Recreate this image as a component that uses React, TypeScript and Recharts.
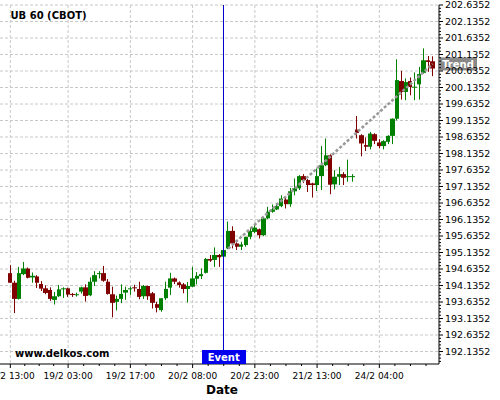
import React from 'react';
import { ComposedChart, Bar, Line, XAxis, YAxis, CartesianGrid, ReferenceLine, ReferenceDot } from 'recharts';

const opens = [194.51,194.22,193.73,194.48,194.65,194.38,194.41,194.18,194.05,194.00,
193.70,193.81,194.04,194.05,193.88,193.86,193.95,194.08,193.84,194.25,
194.50,194.51,194.25,193.87,193.64,193.73,193.92,194.02,194.08,194.03,
193.81,194.12,193.90,193.57,193.39,193.75,194.07,194.35,194.23,194.17,
194.03,194.10,194.34,194.42,194.52,194.94,194.91,195.06,195.01,195.26,
195.79,195.41,195.31,195.36,195.61,195.76,195.84,195.66,196.17,196.37,
196.44,196.54,196.74,196.60,196.99,197.08,197.45,197.33,197.23,197.18,
197.45,197.78,198.08,197.20,197.43,197.51,197.44,197.44,198.86,198.69,
198.39,198.34,198.72,198.47,198.36,198.49,198.67,199.19,200.33,200.00,
200.33,200.14,200.23,200.58,200.96,200.93];
const highs = [194.75,194.28,194.70,194.85,194.68,194.53,194.45,194.27,194.14,194.08,
193.94,194.15,194.08,194.07,193.91,193.92,194.10,194.17,194.38,194.57,
194.57,194.73,194.33,194.10,193.83,194.17,194.10,194.10,194.16,194.25,
194.15,194.13,193.94,193.64,193.75,194.25,194.52,194.38,194.26,194.21,
194.24,194.70,194.54,194.65,194.97,195.06,195.29,195.09,195.27,196.07,
195.93,195.51,195.46,195.61,195.89,195.96,195.86,196.18,196.52,196.59,
196.62,196.87,196.82,197.09,197.38,197.48,197.51,197.36,197.25,197.68,
198.36,198.59,198.11,197.63,197.73,197.57,197.95,197.51,199.27,198.72,
198.62,198.79,198.75,198.57,198.54,198.69,199.20,200.99,200.64,200.41,
200.44,200.59,200.76,201.32,201.09,201.08];
const lows = [194.21,193.30,193.71,194.45,194.35,194.22,194.06,193.97,193.87,193.67,
193.56,193.79,193.76,193.79,193.79,193.80,193.89,193.65,193.81,194.12,
194.35,194.25,193.86,193.17,193.38,193.60,193.70,193.85,193.95,193.72,
193.73,193.70,193.44,193.32,193.34,193.70,193.85,194.18,194.07,193.90,
193.62,194.09,194.17,194.33,194.50,194.85,194.70,194.70,194.97,195.24,
195.26,195.21,195.21,195.31,195.54,195.72,195.56,195.63,196.15,196.34,
196.42,196.51,196.47,196.52,196.87,197.03,197.24,196.97,196.80,197.00,
197.03,197.75,196.90,197.05,197.18,197.18,197.28,197.28,198.59,198.05,
198.21,198.26,198.42,198.29,198.26,198.42,198.42,199.14,199.77,199.75,
199.90,199.75,199.77,200.55,200.61,200.48];
const closes = [194.22,193.73,194.51,194.65,194.37,194.43,194.22,194.04,193.91,193.73,
193.81,194.02,194.05,193.86,193.85,193.87,194.08,193.82,194.25,194.45,
194.51,194.28,193.88,193.61,193.73,193.88,194.00,194.05,194.05,193.79,
194.12,193.81,193.61,193.46,193.75,194.03,194.35,194.25,194.15,194.03,
194.12,194.35,194.43,194.48,194.94,194.89,195.06,194.99,195.21,195.79,
195.41,195.31,195.38,195.61,195.79,195.89,195.66,196.17,196.37,196.44,
196.54,196.77,196.60,196.99,197.08,197.45,197.33,197.18,197.18,197.45,
197.78,198.08,197.19,197.43,197.51,197.40,197.45,197.45,198.76,198.44,
198.34,198.74,198.52,198.36,198.51,198.67,199.19,200.36,200.00,200.30,
200.15,200.16,200.54,200.96,200.91,200.71];

const xTickIdx = [0, 13, 27, 41, 55, 69, 83];
const xTickLabels = ['18/2 13:00', '19/2 03:00', '19/2 17:00', '20/2 08:00', '20/2 23:00', '21/2 13:00', '24/2 04:00'];
const xMinorIdx = [3.25, 6.5, 9.75, 16.5, 20, 23.5, 30.5, 34, 37.5, 44.5, 48, 51.5, 58.5, 62, 65.5, 72.5, 76, 79.5, 86.5, 90, 93.5];
const yTicks = [192.1352, 192.6352, 193.1352, 193.6352, 194.1352, 194.6352, 195.1352, 195.6352, 196.1352, 196.6352, 197.1352,
  197.6352, 198.1352, 198.6352, 199.1352, 199.6352, 200.1352, 200.6352, 201.1352, 201.6352, 202.1352, 202.6352];
const xDomain = [-2.32, 96.42];
const yDomain = [191.757, 202.6352];
const eventIdx = 48;
const trendIdx = [49, 95];
const trendVals = [195.25, 200.85];

const rows = opens.map((o, i) => ({ i, o, h: highs[i], l: lows[i], c: closes[i], range: [lows[i], highs[i]] }));
const trendData = trendIdx.map((i, k) => ({ i, v: trendVals[k] }));
const allXTicks = [...xTickIdx, ...xMinorIdx].sort((a, b) => a - b);
const yMinor: number[] = [];
yTicks.forEach((m) => { for (let k = 1; k <= 4; k++) yMinor.push(+(m + k * 0.1).toFixed(4)); });
for (let k = 1; k <= 3; k++) yMinor.push(+(yTicks[0] - k * 0.1).toFixed(4));
const allYTicks = [...yTicks, ...yMinor].filter(v => v >= yDomain[0] && v <= yDomain[1]).sort((a, b) => a - b);

const FONT = '"DejaVu Sans", sans-serif';
const GREEN = '#008000';
const RED = '#800000';

const Candle = (props: any) => {
  const { x, y, width, height, payload } = props;
  if (!payload) return null;
  const top = Math.min(y, y + height);
  const h = Math.abs(height);
  const { o, h: hi, l, c } = payload;
  const py = (p: number) => top + ((hi - p) / (hi - l)) * h;
  const up = c >= o;
  const color = up ? GREEN : RED;
  const center = x + width / 2;
  const cx = Math.floor(center) + 0.5;
  const left = Math.round(center - 2.2);
  const right = Math.round(center + 2.2);
  const bTop = py(Math.max(o, c));
  const bBot = py(Math.min(o, c));
  return (
    <g>
      <line x1={cx} x2={cx} y1={top} y2={top + h} stroke={color} strokeWidth={1} />
      <rect x={left} y={bTop} width={right - left} height={Math.max(1, bBot - bTop)} fill={color} />
    </g>
  );
};

const XTick = (props: any) => {
  const { x, y, payload } = props;
  const k = xTickIdx.indexOf(payload.value);
  const major = k >= 0;
  return (
    <g>
      <line x1={x} x2={x} y1={y} y2={y + (major ? 4 : 2)} stroke="#000" />
      {major && (
        <text x={x} y={y + 9} dy="0.71em" textAnchor="middle" fontSize={9} fontFamily={FONT} fill="#000">
          {xTickLabels[k]}
        </text>
      )}
    </g>
  );
};

const YTick = (props: any) => {
  const { x, y, payload } = props;
  const k = yTicks.findIndex((t) => Math.abs(t - payload.value) < 1e-6);
  const major = k >= 0;
  return (
    <g>
      <line x1={x} x2={x + (major ? 4 : 2)} y1={y} y2={y} stroke="#000" />
      {major && (
        <text x={x + 6} y={y} dy="0.355em" textAnchor="start" fontSize={9.5} fontFamily={FONT} fill="#000">
          {yTicks[k].toFixed(4)}
        </text>
      )}
    </g>
  );
};

const EventLine = (props: any) => {
  const { x1, y1, y2 } = props;
  const xx = Math.floor(x1) + 0.5;
  return <line x1={xx} x2={xx} y1={y1} y2={y2} stroke="#0000cc" strokeWidth={1} />;
};

const EventBox = (props: any) => {
  const { cx, cy } = props;
  return (
    <g>
      <rect x={Math.round(cx) - 22} y={cy - 14} width={44} height={14} fill="#0000ee" />
      <text x={cx} y={cy - 3.5} textAnchor="middle" fontSize={10} fontWeight="bold" fontFamily={FONT} fill="#fff">Event</text>
    </g>
  );
};

const TrendBox = (props: any) => {
  const { cx, cy } = props;
  return (
    <g>
      <rect x={cx} y={cy - 6.5} width={38} height={13} fill="#888888" />
      <text x={cx + 19} y={cy + 3.6} textAnchor="middle" fontSize={10} fontWeight="bold" fontFamily={FONT} fill="#fff">Trend</text>
    </g>
  );
};

export default function App() {
  return (
    <div style={{ position: 'absolute', left: 0, top: 0, width: 500, height: 400, background: '#fff' }}>
      <ComposedChart width={500} height={400} data={rows} margin={{ top: 5, right: 0, bottom: 0, left: 0 }}>
        <CartesianGrid stroke="#c8c8c8" strokeDasharray="3 2" horizontalValues={yTicks} verticalValues={xTickIdx} />
        <XAxis
          dataKey="i"
          type="number"
          domain={xDomain}
          allowDataOverflow
          ticks={allXTicks}
          interval={0}
          tickSize={0}
          tickMargin={0}
          tickLine={false}
          height={36}
          axisLine={{ stroke: '#000' }}
          tick={XTick}
        />
        <YAxis
          orientation="right"
          type="number"
          domain={yDomain}
          allowDataOverflow
          ticks={allYTicks}
          interval={0}
          tickSize={0}
          tickMargin={0}
          tickLine={false}
          width={61}
          axisLine={{ stroke: '#000' }}
          tick={YTick}
        />
        <Line data={trendData} dataKey="v" stroke="#999999" strokeWidth={2.5} strokeDasharray="3 2" dot={false} isAnimationActive={false} />
        <Bar dataKey="range" barSize={4} shape={Candle} isAnimationActive={false} />
        <ReferenceLine x={eventIdx} shape={EventLine} ifOverflow="visible" />
        <ReferenceDot x={eventIdx} y={yDomain[0]} r={0} shape={EventBox} ifOverflow="visible" />
        <ReferenceDot x={xDomain[1]} y={trendVals[1]} r={0} shape={TrendBox} ifOverflow="visible" />
      </ComposedChart>
      <svg width={500} height={400} style={{ position: 'absolute', left: 0, top: 0, pointerEvents: 'none' }}>
        <text x={10.5} y={19} fontSize={10} fontWeight="bold" fontFamily={FONT} fill="#000">UB 60 (CBOT)</text>
        <text x={15} y={357} fontSize={10} fontWeight="bold" fontFamily={FONT} fill="#000">www.delkos.com</text>
        <text x={222} y={394} textAnchor="middle" fontSize={12} fontWeight="bold" fontFamily={FONT} fill="#000">Date</text>
      </svg>
    </div>
  );
}
